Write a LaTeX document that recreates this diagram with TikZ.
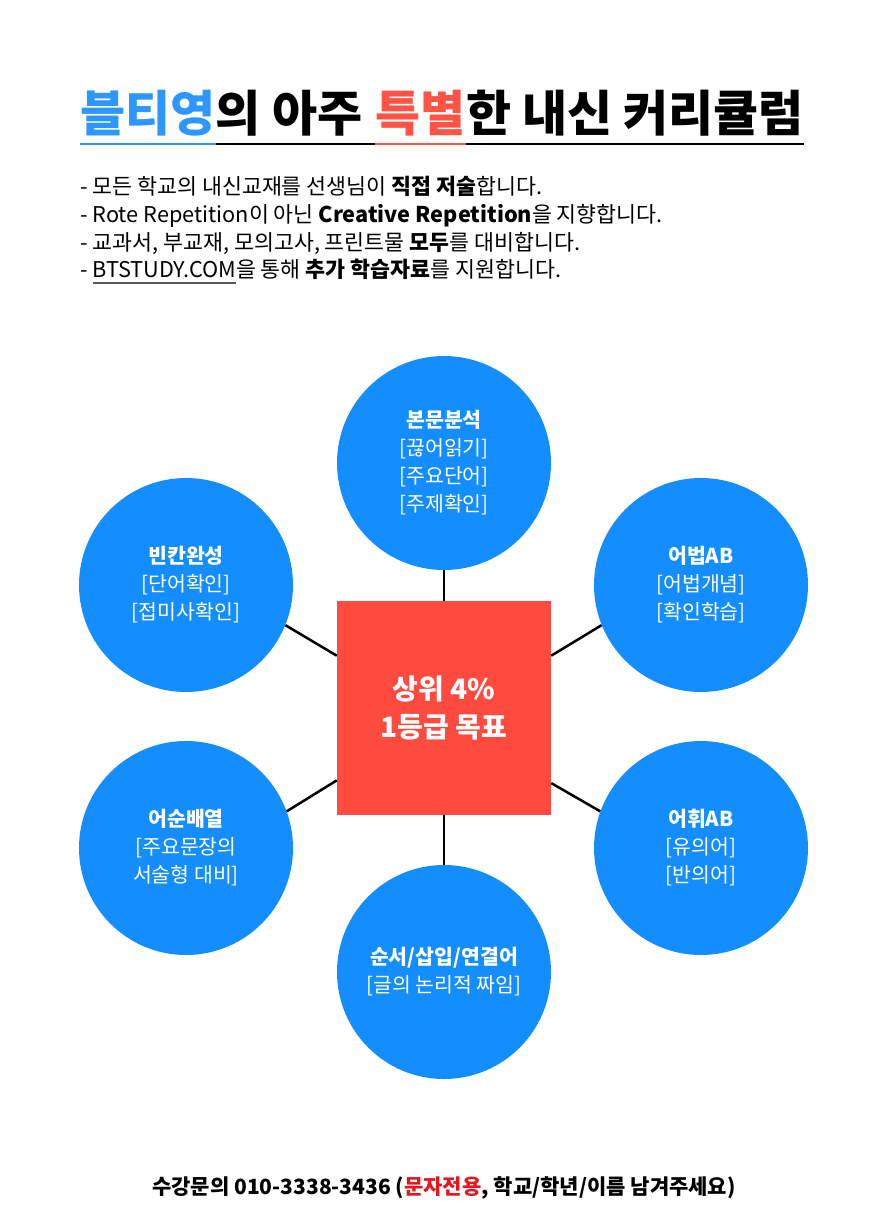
\documentclass[tikz,border=0pt]{standalone}
\usepackage{fontspec}
\setmainfont{Noto Sans CJK KR}
\usepackage{tikz}
\usetikzlibrary{calc}

\definecolor{circblue}{HTML}{148EFF}
\definecolor{boxred}{HTML}{FF4B3F}
\definecolor{ttlblue}{HTML}{2E96FF}
\definecolor{ttlred}{HTML}{FF5346}
\definecolor{telred}{HTML}{E8141E}

\newcommand\siteul[1]{\setbox0\hbox{#1}\rlap{\color{black!65}\rule[-7pt]{\wd0}{1.6pt}}\box0}

\begin{document}
\begin{tikzpicture}[x=1pt,y=-1pt]
    \useasboundingbox (0,0) rectangle (889,1221);
    \fill[white] (0,0) rectangle (889,1221);

    % title
    \begin{scope}[every node/.style={anchor=base west,inner sep=0pt,font=\fontsize{49}{58}\selectfont\bfseries}]
        \node[text=ttlblue] (tA) at (80,131) {블티영};
        \node (tB) at (tA.base east) {의 아주\kern.26em};
        \node[text=ttlred] (tC) at (tB.base east) {특별};
        \node (tD) at (tC.base east) {한 내신 커리큘럼};
    \end{scope}
    \draw[line width=2.5pt] ([yshift=-13pt]tA.base west) -- ([yshift=-13pt]tD.base east);
    \draw[line width=2.5pt,ttlblue] ([yshift=-13pt]tA.base west) -- ([yshift=-13pt]tA.base east);
    \draw[line width=2.5pt,ttlred] ([yshift=-13pt]tC.base west) -- ([yshift=-13pt]tC.base east);

    % bullets
    \begin{scope}[every node/.style={anchor=base west,inner sep=0pt,font=\fontsize{21.7}{28}\selectfont}]
        \node (b1) at (80,194) {- 모든 학교의 내신교재를 선생님이 \textbf{직접 저술}합니다.};
        \node (b2) at (80,222) {- Rote Repetition이 아닌 \textbf{Creative Repetition}을 지향합니다.};
        \node (b3) at (80,250) {- 교과서, 부교재, 모의고사, 프린트물 \textbf{모두}를 대비합니다.};
        \node (b4) at (80,277) {- \siteul{BTSTUDY.COM}을 통해 \textbf{추가 학습자료}를 지원합니다.};
    \end{scope}

    % centre box
    \node[fill=boxred,minimum size=214pt,inner sep=0pt,text=white,align=center,
          font=\fontsize{28}{38}\selectfont\bfseries] (goal) at (444,708) {상위 4\%\\1등급 목표};

    % circles
    \begin{scope}[every node/.style={fill=circblue,circle,minimum size=214pt,inner sep=0pt,
                  text=white,align=center,font=\fontsize{20.5}{28}\selectfont}]
        \node (main) at (444,463) {\textbf{본문분석}\\{}[끊어읽기]\\{}[주요단어]\\{}[주제확인]};
        \node (blank) at (186,585) {\textbf{빈칸완성}\\{}[단어확인]\\{}[접미사확인]};
        \node (gram) at (701,585) {\textbf{어법AB}\\{}[어법개념]\\{}[확인학습]};
        \node (order) at (186,848) {\textbf{어순배열}\\{}[주요문장의\\서술형 대비]};
        \node (vocab) at (701,848) {\textbf{어휘AB}\\{}[유의어]\\{}[반의어]};
        \node (flow) at (444,972) {\textbf{순서/삽입/연결어}\\{}[글의 논리적 짜임]};
    \end{scope}

    \begin{scope}[every edge/.style={draw=black,line width=2.5pt}]
        \path (main) edge (goal);
        \path (goal) edge (flow);
        \path (blank.-22) edge (goal.154.5);
        \path (gram.202) edge (goal.26.3);
        \path (order.20.4) edge (goal.214);
        \path (vocab.160) edge (goal.325.3);
    \end{scope}

    % footer
    \node[anchor=base,inner sep=0pt,font=\fontsize{21}{26}\selectfont\bfseries] (tel) at (444,1194)
        {수강문의 010-3338-3436 (\textcolor{telred}{문자전용}, 학교/학년/이름 남겨주세요)};
\end{tikzpicture}
\end{document}
